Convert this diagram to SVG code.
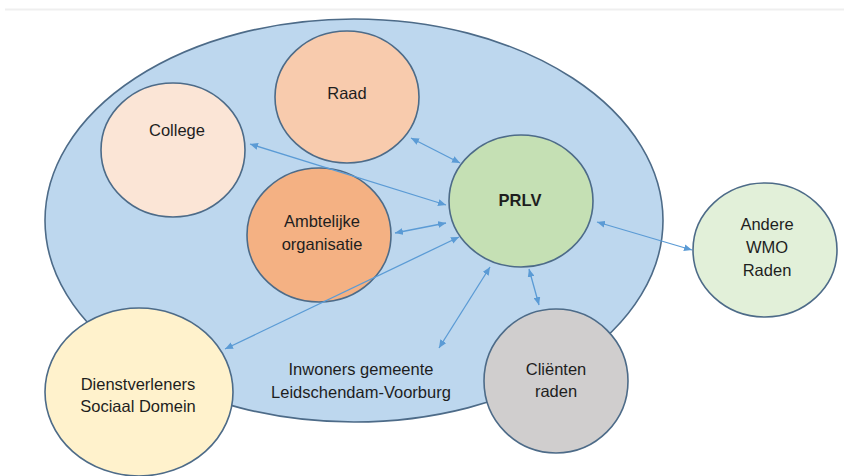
<svg xmlns="http://www.w3.org/2000/svg" width="844" height="476" viewBox="0 0 844 476">
<defs>
<marker id="ah" viewBox="0 0 8 7" refX="8" refY="3.5" markerWidth="8" markerHeight="7" markerUnits="userSpaceOnUse" orient="auto-start-reverse">
<path d="M0,0 L8,3.5 L0,7 z" fill="#5b9bd5"/>
</marker>
<style>
.n{stroke:#4d6b88;stroke-width:1.6}
.t{font-family:"Liberation Sans",Arial,sans-serif;font-size:16.5px;fill:#1e1e1e;text-anchor:middle}
.b{font-weight:bold}
.c{stroke:#5b9bd5;stroke-width:1.3;fill:none;marker-start:url(#ah);marker-end:url(#ah)}
</style>
</defs>
<rect x="0" y="0" width="844" height="476" fill="#ffffff"/>
<line x1="5" y1="9.5" x2="844" y2="9.5" stroke="#efefef" stroke-width="2"/>
<g id="inwoners">
<ellipse class="n" cx="354" cy="220.5" rx="309" ry="201.5" fill="#bdd7ee"/>
<text class="t" x="361" y="375">Inwoners gemeente</text>
<text class="t" x="361" y="398">Leidschendam-Voorburg</text>
</g>
<g id="raad">
<ellipse class="n" cx="347" cy="97" rx="72" ry="66" fill="#f8cbad"/>
<text class="t" x="347" y="99">Raad</text>
</g>
<g id="college">
<ellipse class="n" cx="173" cy="150" rx="72" ry="67" fill="#fbe5d6"/>
<text class="t" x="177" y="136">College</text>
</g>
<g id="ambtelijke">
<ellipse class="n" cx="319" cy="235" rx="72" ry="67" fill="#f4b183"/>
<text class="t" x="322" y="227">Ambtelijke</text>
<text class="t" x="322" y="250">organisatie</text>
</g>
<g id="prlv">
<ellipse class="n" cx="521" cy="201" rx="72" ry="66" fill="#c5e0b4"/>
<text class="t b" x="520" y="206">PRLV</text>
</g>
<g id="andere">
<ellipse class="n" cx="765" cy="250" rx="72" ry="67" fill="#e2f0d9"/>
<text class="t" x="767" y="230">Andere</text>
<text class="t" x="767" y="253">WMO</text>
<text class="t" x="767" y="276">Raden</text>
</g>
<g id="dienstverleners">
<ellipse class="n" cx="139" cy="392" rx="94" ry="84" fill="#fff2cc"/>
<text class="t" x="138" y="390">Dienstverleners</text>
<text class="t" x="138" y="412">Sociaal Domein</text>
</g>
<g id="clienten">
<ellipse class="n" cx="556" cy="381" rx="72" ry="72" fill="#d0cece"/>
<text class="t" x="556" y="375">Cliënten</text>
<text class="t" x="556" y="397">raden</text>
</g>
<g id="connectors">
<line class="c" x1="250" y1="144" x2="446" y2="205"/>
<line class="c" x1="411" y1="138" x2="460" y2="163"/>
<line class="c" x1="395" y1="233" x2="446" y2="223"/>
<line class="c" x1="225" y1="349" x2="459" y2="237"/>
<line class="c" x1="490" y1="267" x2="439" y2="348"/>
<line class="c" x1="529" y1="269" x2="539" y2="305"/>
<line class="c" x1="597" y1="222" x2="692" y2="250"/>
</g>
</svg>
